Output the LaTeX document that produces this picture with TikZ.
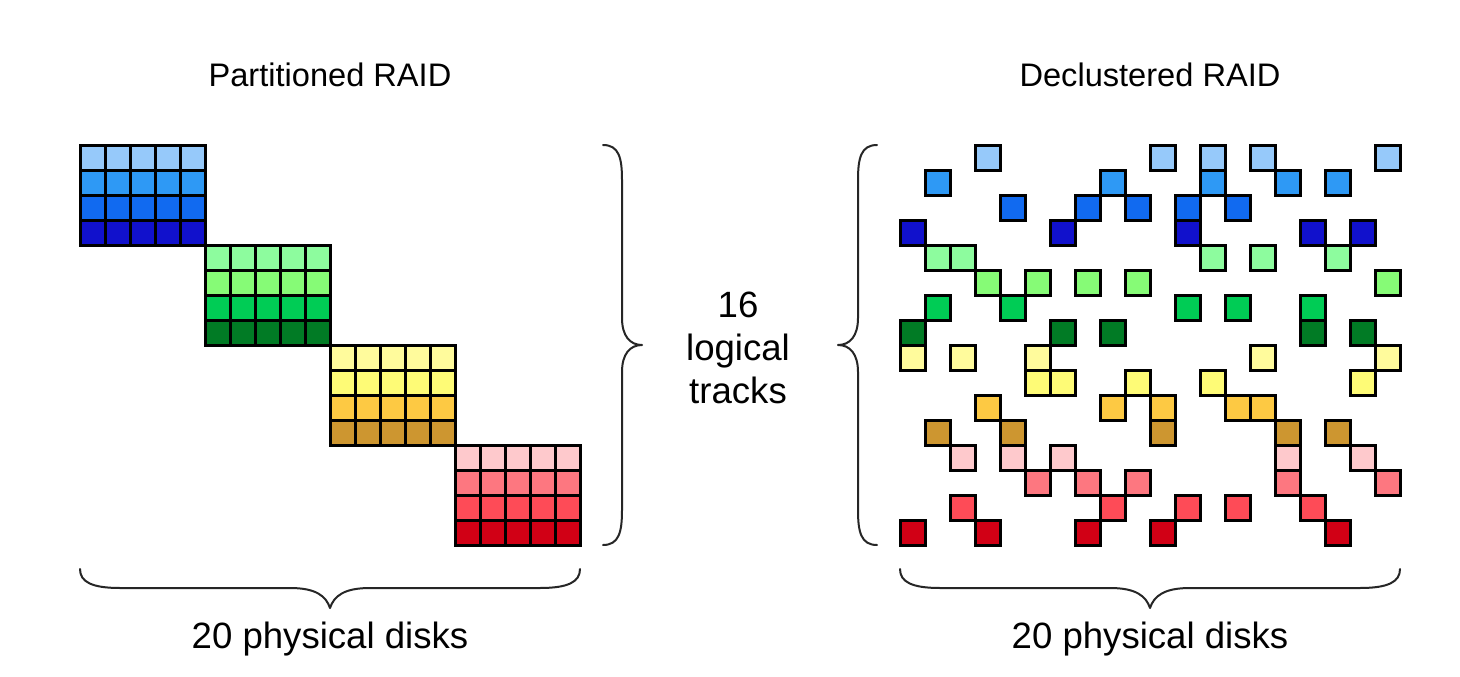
\documentclass[tikz,border=0pt]{standalone}
\usepackage{fontspec}
\setmainfont{Liberation Sans}
\definecolor{c0}{HTML}{96C9FA}
\definecolor{c1}{HTML}{2E99F5}
\definecolor{c2}{HTML}{116AF0}
\definecolor{c3}{HTML}{1111CC}
\definecolor{c4}{HTML}{8DFC9E}
\definecolor{c5}{HTML}{86FB76}
\definecolor{c6}{HTML}{00CC55}
\definecolor{c7}{HTML}{017B25}
\definecolor{c8}{HTML}{FFFB9C}
\definecolor{c9}{HTML}{FEFB76}
\definecolor{c10}{HTML}{FDC943}
\definecolor{c11}{HTML}{CD9630}
\definecolor{c12}{HTML}{FEC9CC}
\definecolor{c13}{HTML}{FD7780}
\definecolor{c14}{HTML}{FE4B57}
\definecolor{c15}{HTML}{D10015}
\tikzset{
  cell/.style={draw=black, line width=3pt, minimum size=25pt, inner sep=0pt, outer sep=0pt},
  brace/.style={draw=black!85, line width=2pt, line cap=round, line join=round},
  titletext/.style={font=\fontsize{32.6pt}{39pt}\selectfont, inner sep=0pt, anchor=base},
  labeltext/.style={font=\fontsize{36.6pt}{43pt}\selectfont, inner sep=0pt, anchor=base}
}
\begin{document}
\begin{tikzpicture}[x=1pt, y=-1pt]
\useasboundingbox[fill=white] (0,0) rectangle (1460,677);
% titles
\node[titletext] (titleL) at (330,87) {Partitioned RAID};
\node[titletext] (titleR) at (1150,87) {Declustered RAID};
% partitioned grid
\foreach \g in {0,1,2,3} {
  \foreach \i in {0,1,2,3} {
    \pgfmathtruncatemacro{\r}{4*\g+\i}
    \foreach \j in {0,...,4} {
      \pgfmathtruncatemacro{\c}{5*\g+\j}
      \node[cell, fill=c\r] (L-\r-\c) at ({80+25*\c+12.5},{145+25*\r+12.5}) {};
    }
  }
}
% declustered grid
\foreach \r/\cols in {
  0/{3,10,12,14,19},
  1/{1,8,12,15,17},
  2/{4,7,9,11,13},
  3/{0,6,11,16,18},
  4/{1,2,12,14,17},
  5/{3,5,7,9,19},
  6/{1,4,11,13,16},
  7/{0,6,8,16,18},
  8/{0,2,5,14,19},
  9/{5,6,9,12,18},
  10/{3,8,10,13,14},
  11/{1,4,10,15,17},
  12/{2,4,6,15,18},
  13/{5,7,9,15,19},
  14/{2,8,11,13,16},
  15/{0,3,7,10,17}} {
  \foreach \c in \cols {
    \node[cell, fill=c\r] (R-\r-\c) at ({900+25*\c+12.5},{145+25*\r+12.5}) {};
  }
}
% vertical braces
\draw[brace] (603,145) .. controls (619,145) and (622,158) .. (622,180)
  -- (622,318) .. controls (622,336) and (630,345) .. (642,345)
  .. controls (630,345) and (622,354) .. (622,372)
  -- (622,510) .. controls (622,532) and (619,545) .. (603,545);
\draw[brace] (877,145) .. controls (861,145) and (858,158) .. (858,180)
  -- (858,318) .. controls (858,336) and (850,345) .. (838,345)
  .. controls (850,345) and (858,354) .. (858,372)
  -- (858,510) .. controls (858,532) and (861,545) .. (877,545);
% horizontal braces
\foreach \x in {80,900} {
  \draw[brace] (\x,569) .. controls (\x,582) and (\x+12,588) .. (\x+40,588)
    -- (\x+210,588) .. controls (\x+236,588) and (\x+246,596) .. (\x+250,608)
    .. controls (\x+254,596) and (\x+264,588) .. (\x+290,588)
    -- (\x+460,588) .. controls (\x+488,588) and (\x+500,582) .. (\x+500,569);
}
% labels
\node[labeltext] (l16) at (738,317) {16};
\node[labeltext] (llog) at (738,360) {logical};
\node[labeltext] (ltr) at (738,403) {tracks};
\node[labeltext] (diskL) at (330,648) {20 physical disks};
\node[labeltext] (diskR) at (1150,648) {20 physical disks};
\end{tikzpicture}
\end{document}
